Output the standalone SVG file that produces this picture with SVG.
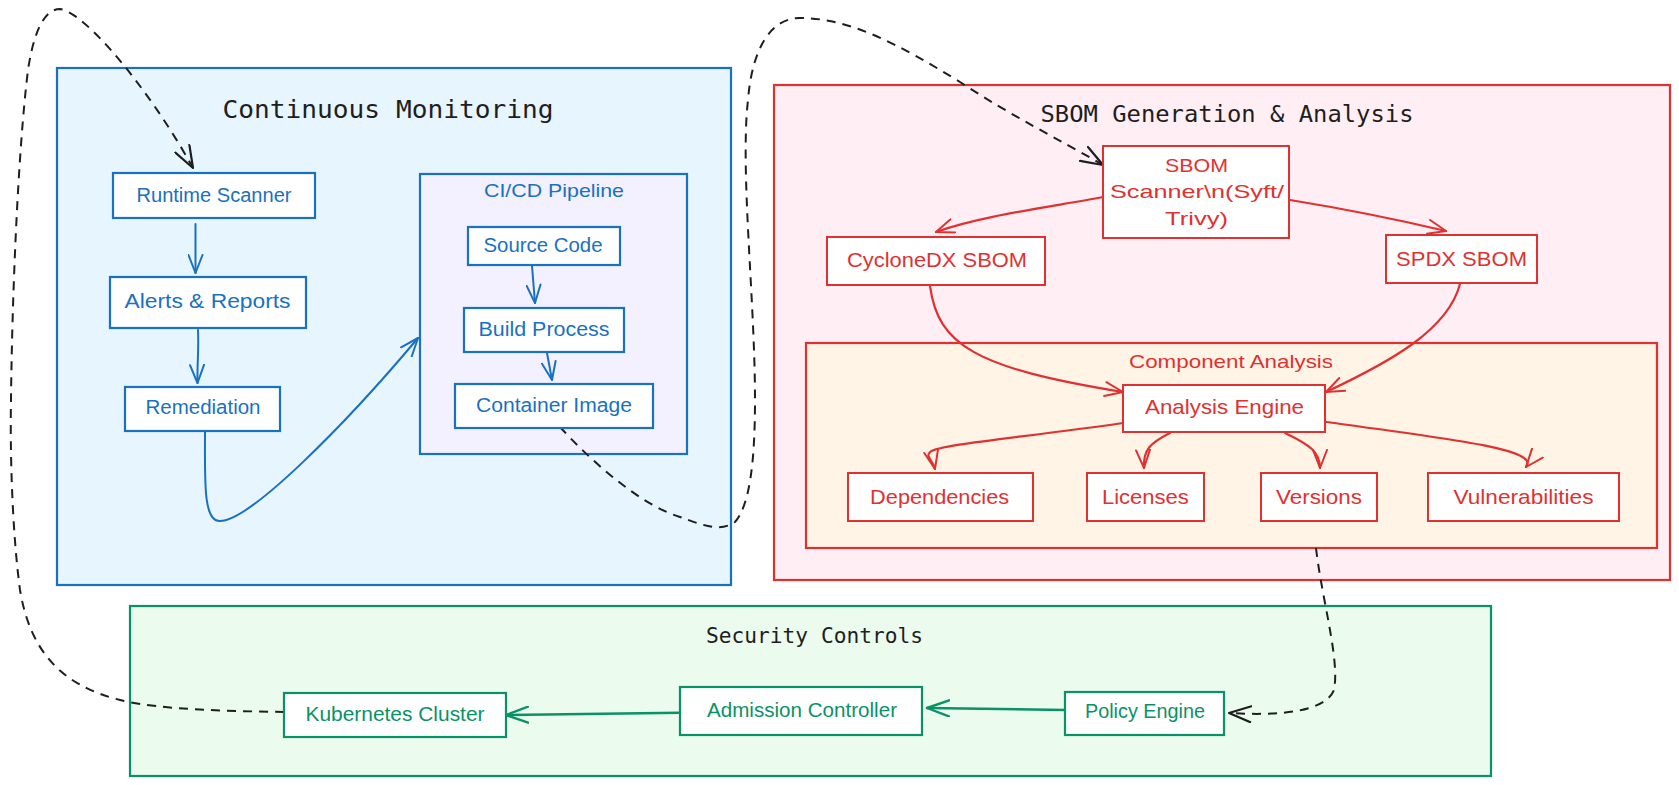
<svg xmlns="http://www.w3.org/2000/svg" width="1679" height="785" viewBox="0 0 1679 785">
<defs>
<style>
.c-blue{fill:#e7f5ff;stroke:#1971c2;stroke-width:2.2}
.c-lav{fill:#f3f0ff;stroke:#1971c2;stroke-width:2.2}
.c-pink{fill:#ffeef3;stroke:#e03131;stroke-width:2.2}
.c-orange{fill:#fff4e6;stroke:#e03131;stroke-width:2.2}
.c-green{fill:#ebfbee;stroke:#099268;stroke-width:2.2}
.nb rect{fill:#fff;stroke:#1971c2;stroke-width:2.2}
.nr rect{fill:#fff;stroke:#e03131;stroke-width:2}
.ng rect{fill:#fff;stroke:#099268;stroke-width:2.2}
.lbl{font-family:"Liberation Sans",Arial,sans-serif;text-anchor:middle}
.nb text,.tb{fill:#1971c2}
.nr text,.tr{fill:#e03131}
.ng text{fill:#099268}
.ttl{font-family:"DejaVu Sans Mono","Liberation Mono",monospace;fill:#1e1e1e;text-anchor:middle}
.eb{fill:none;stroke:#1971c2;stroke-width:2;stroke-linecap:round}
.er{fill:none;stroke:#e03131;stroke-width:2.2;stroke-linecap:round}
.eg{fill:none;stroke:#099268;stroke-width:2.6;stroke-linecap:round}
.ek{fill:none;stroke:#1e1e1e;stroke-width:2;stroke-dasharray:9 7}
</style>
<marker id="mb" viewBox="0 0 20 16" refX="19" refY="8" markerWidth="20" markerHeight="16" markerUnits="userSpaceOnUse" orient="auto"><path d="M1,1 L19,8 L1,15" fill="none" stroke="#1971c2" stroke-width="2" stroke-linecap="round" stroke-linejoin="round"/></marker>
<marker id="mr" viewBox="0 0 20 16" refX="19" refY="8" markerWidth="20" markerHeight="16" markerUnits="userSpaceOnUse" orient="auto"><path d="M1,1 L19,8 L1,15" fill="none" stroke="#e03131" stroke-width="2" stroke-linecap="round" stroke-linejoin="round"/></marker>
<marker id="mg" viewBox="0 0 24 18" refX="23" refY="9" markerWidth="24" markerHeight="18" markerUnits="userSpaceOnUse" orient="auto"><path d="M1,1 L23,9 L1,17" fill="none" stroke="#099268" stroke-width="2.4" stroke-linecap="round" stroke-linejoin="round"/></marker>
<marker id="mk" viewBox="0 0 24 18" refX="23" refY="9" markerWidth="24" markerHeight="18" markerUnits="userSpaceOnUse" orient="auto"><path d="M1,1 L23,9 L1,17" fill="none" stroke="#1e1e1e" stroke-width="2.2" stroke-linecap="round" stroke-linejoin="round"/></marker>
</defs>
<rect width="1679" height="785" fill="#ffffff"/>

<g id="continuous-monitoring">
<rect class="c-blue" x="57" y="68" width="674" height="517"/>
<text class="ttl" x="388" y="118" font-size="25" textLength="331" lengthAdjust="spacingAndGlyphs">Continuous Monitoring</text>
</g>
<g id="ci-cd-pipeline">
<rect class="c-lav" x="420" y="174" width="267" height="280"/>
<text class="lbl tb" x="554" y="197" font-size="19" textLength="140" lengthAdjust="spacingAndGlyphs">CI/CD Pipeline</text>
</g>
<g id="sbom-generation">
<rect class="c-pink" x="774" y="85" width="896" height="495"/>
<text class="ttl" x="1227" y="122" font-size="23" textLength="373" lengthAdjust="spacingAndGlyphs">SBOM Generation &amp; Analysis</text>
</g>
<g id="component-analysis">
<rect class="c-orange" x="806" y="343" width="851" height="205"/>
<text class="lbl tr" x="1231" y="368" font-size="19" textLength="204" lengthAdjust="spacingAndGlyphs">Component Analysis</text>
</g>
<g id="security-controls">
<rect class="c-green" x="130" y="606" width="1361" height="170"/>
<text class="ttl" x="814.5" y="643" font-size="21" textLength="217" lengthAdjust="spacingAndGlyphs">Security Controls</text>
</g>

<g id="connectors">
<path class="eb" marker-end="url(#mb)" d="M195.5,224 L195.5,273"/>
<path class="eb" marker-end="url(#mb)" d="M198,330 C199,350 197,365 197.5,383"/>
<path class="eb" marker-end="url(#mb)" d="M532,266 L535,303"/>
<path class="eb" marker-end="url(#mb)" d="M547,353 L552,380"/>
<path class="eb" stroke-width="2.4" marker-end="url(#mb)" d="M205,432 C205,480 203,522 220,521 C250,521 345,425 418,338"/>

<path class="er" marker-end="url(#mr)" d="M1103,197 C1050,207 980,216 936,232"/>
<path class="er" stroke-width="3" marker-end="url(#mr)" d="M1290,200 Q1370,213 1446,231"/>
<path class="er" marker-end="url(#mr)" d="M930,286 C938,345 975,368 1123,392"/>
<path class="er" marker-end="url(#mr)" d="M1460,284 C1448,330 1390,362 1326,392"/>
<path class="er" stroke-width="2.6" marker-end="url(#mr)" d="M1123,423 C1020,438 940,444 930,452 C925,457 933,460 935,469"/>
<path class="er" marker-end="url(#mr)" d="M1170,433 C1150,443 1143,450 1144,468"/>
<path class="er" marker-end="url(#mr)" d="M1285,433 C1310,445 1320,452 1320,468"/>
<path class="er" stroke-width="2.6" marker-end="url(#mr)" d="M1326,422 C1460,440 1540,450 1526,467"/>

<path class="eg" marker-end="url(#mg)" d="M1065,710 L927,708"/>
<path class="eg" marker-end="url(#mg)" d="M680,712.7 L506,715"/>

<path class="ek" marker-end="url(#mk)" d="M284,712 C230,711 160,710 120,700 C60,685 30,650 20,590 C12,530 10,450 11,400 C12,300 18,150 28,70 C34,30 45,9 60,9 C85,12 150,90 193,168"/>
<path class="ek" marker-end="url(#mk)" d="M560,427 C590,460 640,505 680,517 C705,526 720,532 735,522 C750,505 755,460 755,400 C755,300 740,170 748,100 C752,50 770,18 800,18 C850,18 900,45 960,82 C1010,115 1060,140 1103,165"/>
<path class="ek" marker-end="url(#mk)" d="M1316,548 C1322,600 1340,660 1334,690 C1325,712 1280,716 1229,713"/>
</g>

<g id="runtime-scanner" class="nb"><rect x="113" y="173" width="202" height="45"/><text class="lbl" x="214" y="201.5" font-size="20" textLength="155" lengthAdjust="spacingAndGlyphs">Runtime Scanner</text></g>
<g id="alerts-reports" class="nb"><rect x="110" y="277" width="196" height="51"/><text class="lbl" x="207.5" y="308" font-size="20" textLength="166" lengthAdjust="spacingAndGlyphs">Alerts &amp; Reports</text></g>
<g id="remediation" class="nb"><rect x="125" y="387" width="155" height="44"/><text class="lbl" x="203" y="414" font-size="20" textLength="115" lengthAdjust="spacingAndGlyphs">Remediation</text></g>
<g id="source-code" class="nb"><rect x="468" y="227" width="152" height="38"/><text class="lbl" x="543" y="251.7" font-size="20" textLength="119" lengthAdjust="spacingAndGlyphs">Source Code</text></g>
<g id="build-process" class="nb"><rect x="464" y="308" width="160" height="44"/><text class="lbl" x="544" y="335.5" font-size="20" textLength="131" lengthAdjust="spacingAndGlyphs">Build Process</text></g>
<g id="container-image" class="nb"><rect x="455" y="384" width="198" height="44"/><text class="lbl" x="554" y="411.5" font-size="20" textLength="156" lengthAdjust="spacingAndGlyphs">Container Image</text></g>

<g id="sbom-scanner" class="nr"><rect x="1103" y="146" width="186" height="92"/>
<text class="lbl" x="1196.5" y="171.7" font-size="19" textLength="63" lengthAdjust="spacingAndGlyphs">SBOM</text>
<text class="lbl" x="1197" y="198.3" font-size="19" textLength="174" lengthAdjust="spacingAndGlyphs">Scanner\n(Syft/</text>
<text class="lbl" x="1196.5" y="225" font-size="19" textLength="63" lengthAdjust="spacingAndGlyphs">Trivy)</text></g>
<g id="cyclonedx-sbom" class="nr"><rect x="827" y="237" width="218" height="48"/><text class="lbl" x="937" y="266.5" font-size="21" textLength="180" lengthAdjust="spacingAndGlyphs">CycloneDX SBOM</text></g>
<g id="spdx-sbom" class="nr"><rect x="1386" y="235" width="151" height="48"/><text class="lbl" x="1461.5" y="265.5" font-size="21" textLength="131" lengthAdjust="spacingAndGlyphs">SPDX SBOM</text></g>
<g id="analysis-engine" class="nr"><rect x="1123" y="385" width="202" height="47"/><text class="lbl" x="1224.5" y="414" font-size="21" textLength="159" lengthAdjust="spacingAndGlyphs">Analysis Engine</text></g>
<g id="dependencies" class="nr"><rect x="848" y="473" width="185" height="48"/><text class="lbl" x="939.6" y="503.5" font-size="21" textLength="139" lengthAdjust="spacingAndGlyphs">Dependencies</text></g>
<g id="licenses" class="nr"><rect x="1087" y="473" width="117" height="48"/><text class="lbl" x="1145.4" y="503.5" font-size="21" textLength="87" lengthAdjust="spacingAndGlyphs">Licenses</text></g>
<g id="versions" class="nr"><rect x="1261" y="473" width="116" height="48"/><text class="lbl" x="1319" y="503.5" font-size="21" textLength="86" lengthAdjust="spacingAndGlyphs">Versions</text></g>
<g id="vulnerabilities" class="nr"><rect x="1428" y="473" width="191" height="48"/><text class="lbl" x="1523.5" y="503.5" font-size="21" textLength="140" lengthAdjust="spacingAndGlyphs">Vulnerabilities</text></g>

<g id="kubernetes-cluster" class="ng"><rect x="284" y="693" width="222" height="44"/><text class="lbl" x="395" y="720.5" font-size="20" textLength="179" lengthAdjust="spacingAndGlyphs">Kubernetes Cluster</text></g>
<g id="admission-controller" class="ng"><rect x="680" y="687" width="242" height="48"/><text class="lbl" x="802" y="716.7" font-size="20" textLength="190" lengthAdjust="spacingAndGlyphs">Admission Controller</text></g>
<g id="policy-engine" class="ng"><rect x="1065" y="692" width="159" height="43"/><text class="lbl" x="1145" y="718.3" font-size="20" textLength="120" lengthAdjust="spacingAndGlyphs">Policy Engine</text></g>
</svg>
